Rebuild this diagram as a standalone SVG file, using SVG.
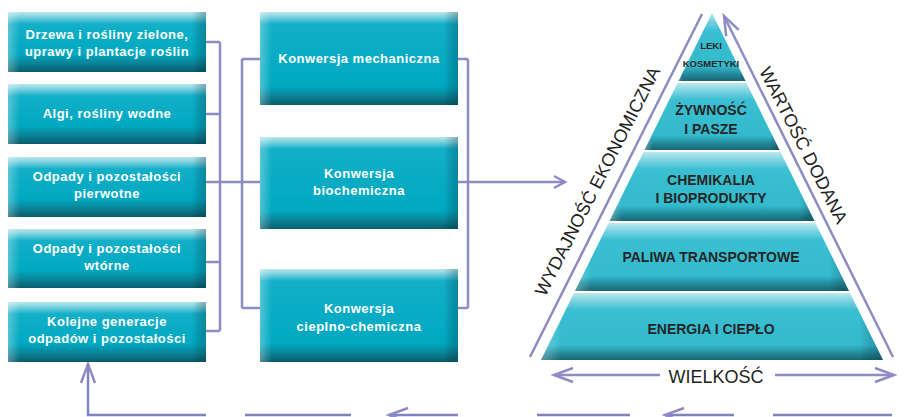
<svg xmlns="http://www.w3.org/2000/svg" width="907" height="417" viewBox="0 0 907 417">
<style>
.box{fill:url(#boxV60)}
.boxT{fill:url(#boxV93)}
.edge{fill:url(#boxH)}
.lt{font-family:"Liberation Sans",Arial,sans-serif;font-weight:bold;font-size:13px;fill:#ffffff;text-anchor:middle;letter-spacing:0.5px}
.pt{font-family:"Liberation Sans",Arial,sans-serif;font-weight:bold;font-size:14px;fill:#262626;text-anchor:middle}
.ps{font-family:"Liberation Sans",Arial,sans-serif;font-weight:bold;font-size:9.5px;fill:#262626;text-anchor:middle}
.ax{font-family:"Liberation Sans",Arial,sans-serif;font-size:18px;fill:#231f20;text-anchor:middle}
.band{fill:url(#bandV)}
.con{fill:none;stroke:#8e8cc4;stroke-width:2.5}
.bot{fill:none;stroke:#7f84bd;stroke-width:2.5}
</style>
<defs>
<linearGradient id="boxV60" x1="0" y1="0" x2="0" y2="1">
<stop offset="0" stop-color="#b8e7ef"/>
<stop offset="0.08" stop-color="#7fd3e0"/>
<stop offset="0.2" stop-color="#12afc8"/>
<stop offset="0.7" stop-color="#00a8c1"/>
<stop offset="0.85" stop-color="#0a8598"/>
<stop offset="1" stop-color="#075c6a"/>
</linearGradient>
<linearGradient id="boxV93" x1="0" y1="0" x2="0" y2="1">
<stop offset="0" stop-color="#b8e7ef"/>
<stop offset="0.05" stop-color="#7fd3e0"/>
<stop offset="0.13" stop-color="#12afc8"/>
<stop offset="0.8" stop-color="#00a8c1"/>
<stop offset="0.9" stop-color="#0a8598"/>
<stop offset="1" stop-color="#075c6a"/>
</linearGradient>
<linearGradient id="boxH" x1="0" y1="0" x2="1" y2="0">
<stop offset="0" stop-color="#ffffff" stop-opacity="0.3"/>
<stop offset="0.06" stop-color="#ffffff" stop-opacity="0"/>
<stop offset="0.93" stop-color="#000000" stop-opacity="0"/>
<stop offset="1" stop-color="#003040" stop-opacity="0.3"/>
</linearGradient>
<linearGradient id="bandV" x1="0" y1="0" x2="0" y2="1">
<stop offset="0" stop-color="#bde8ef"/>
<stop offset="0.1" stop-color="#86d6e2"/>
<stop offset="0.25" stop-color="#3bbfd2"/>
<stop offset="0.78" stop-color="#33bacd"/>
<stop offset="0.9" stop-color="#22899a"/>
<stop offset="1" stop-color="#176573"/>
</linearGradient>
<marker id="arL" viewBox="-22 -10 26 20" refX="0" refY="0" markerWidth="26" markerHeight="20" markerUnits="userSpaceOnUse" orient="auto-start-reverse">
<path d="M-19,-7 L0,0 L-19,7" fill="none" stroke="#8e8cc4" stroke-width="2.5" stroke-linejoin="miter"/>
</marker>
<marker id="arS" viewBox="-14 -8 17 16" refX="0" refY="0" markerWidth="17" markerHeight="16" markerUnits="userSpaceOnUse" orient="auto">
<path d="M-11,-6 L0,0 L-11,6" fill="none" stroke="#8e8cc4" stroke-width="2.5"/>
</marker>
</defs>

<g id="connectors">
<path class="con" d="M206,42 H220 M206,114 H220 M206,262 H220 M206,331 H220 M220,42 V331"/>
<path class="con" d="M206,182 H260 M242,59 V308 M242,59 H260 M242,308 H260"/>
<path class="con" d="M458,59 H468 M458,308 H468 M468,59 V308"/>
<path class="con" d="M458,182 H565" marker-end="url(#arS)"/>
<path class="con" d="M530,357 L702,14"/>
<path class="con" d="M893,357 L724,16" marker-end="url(#arL)"/>
<path class="con" d="M660,375 H554" marker-end="url(#arL)"/>
<path class="con" d="M775,375 H894" marker-end="url(#arL)"/>
<path class="bot" d="M206,415 H88 V364" marker-end="url(#arL)"/>
<path class="bot" d="M245,415 H351"/>
<path class="bot" d="M458,415 H389" marker-end="url(#arL)"/>
<path class="bot" d="M537,415 H630"/>
<path class="bot" d="M734,415 H665" marker-end="url(#arL)"/>
<path class="bot" d="M773,415 H892"/>
</g>

<g id="src1"><rect class="box" x="8" y="12" width="198" height="60"/><rect class="edge" x="8" y="12" width="198" height="60"/>
<text class="lt" x="107" y="39">Drzewa i rośliny zielone,</text><text class="lt" x="107" y="56">uprawy i plantacje roślin</text></g>
<g id="src2"><rect class="box" x="8" y="84" width="198" height="60"/><rect class="edge" x="8" y="84" width="198" height="60"/>
<text class="lt" x="107" y="118">Algi, rośliny wodne</text></g>
<g id="src3"><rect class="box" x="8" y="157" width="198" height="60"/><rect class="edge" x="8" y="157" width="198" height="60"/>
<text class="lt" x="107" y="181">Odpady i pozostałości</text><text class="lt" x="107" y="198">pierwotne</text></g>
<g id="src4"><rect class="box" x="8" y="229" width="198" height="59"/><rect class="edge" x="8" y="229" width="198" height="59"/>
<text class="lt" x="107" y="253">Odpady i pozostałości</text><text class="lt" x="107" y="270">wtórne</text></g>
<g id="src5"><rect class="box" x="8" y="302" width="198" height="60"/><rect class="edge" x="8" y="302" width="198" height="60"/>
<text class="lt" x="107" y="326">Kolejne generacje</text><text class="lt" x="107" y="343">odpadów i pozostałości</text></g>

<g id="conv1"><rect class="boxT" x="260" y="12" width="198" height="93"/><rect class="edge" x="260" y="12" width="198" height="93"/>
<text class="lt" x="359" y="63">Konwersja mechaniczna</text></g>
<g id="conv2"><rect class="boxT" x="260" y="137" width="198" height="92"/><rect class="edge" x="260" y="137" width="198" height="92"/>
<text class="lt" x="359" y="178">Konwersja</text><text class="lt" x="359" y="195">biochemiczna</text></g>
<g id="conv3"><rect class="boxT" x="260" y="269" width="198" height="93"/><rect class="edge" x="260" y="269" width="198" height="93"/>
<text class="lt" x="359" y="313">Konwersja</text><text class="lt" x="359" y="331">cieplno-chemiczna</text></g>

<g id="pyr1"><polygon class="band" points="712,13 745.5,81 678.5,81"/><polygon class="edge" points="712,13 745.5,81 678.5,81"/>
<text class="ps" x="711" y="49">LEKI</text><text class="ps" x="711" y="67">KOSMETYKI</text></g>
<g id="pyr2"><polygon class="band" points="677.5,83 746.5,83 779.5,150 644.5,150"/><polygon class="edge" points="677.5,83 746.5,83 779.5,150 644.5,150"/>
<text class="pt" x="711" y="115">ŻYWNOŚĆ</text><text class="pt" x="711" y="134">I PASZE</text></g>
<g id="pyr3"><polygon class="band" points="643.5,152 780.5,152 814.5,221 609.5,221"/><polygon class="edge" points="643.5,152 780.5,152 814.5,221 609.5,221"/>
<text class="pt" x="711" y="185">CHEMIKALIA</text><text class="pt" x="711" y="203">I BIOPRODUKTY</text></g>
<g id="pyr4"><polygon class="band" points="608.5,223 815.5,223 849,291 575,291"/><polygon class="edge" points="608.5,223 815.5,223 849,291 575,291"/>
<text class="pt" x="711" y="262">PALIWA TRANSPORTOWE</text></g>
<g id="pyr5"><polygon class="band" points="574,293 850,293 883,360 541,360"/><polygon class="edge" points="574,293 850,293 883,360 541,360"/>
<text class="pt" x="711" y="334">ENERGIA I CIEPŁO</text></g>

<g id="axes">
<text class="ax" transform="translate(603,184) rotate(-63)">WYDAJNOŚĆ EKONOMICZNA</text>
<text class="ax" transform="translate(798,148) rotate(63)">WARTOŚĆ DODANA</text>
<text class="ax" x="716" y="383">WIELKOŚĆ</text>
</g>
</svg>
